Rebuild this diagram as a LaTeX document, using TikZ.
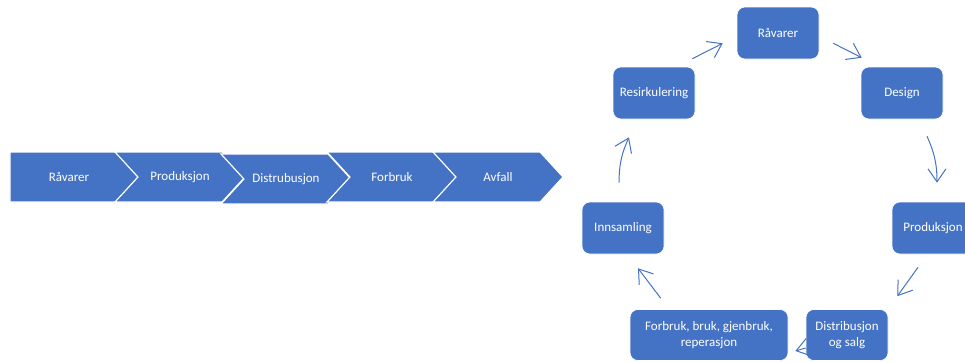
\documentclass[tikz,border=0pt]{standalone}
\usepackage{fontspec}
\setmainfont{Carlito}
\usepackage{xcolor}
\usepackage{tikz}
\usetikzlibrary{shapes,arrows,positioning,calc,arrows.meta}
\definecolor{officeblue}{HTML}{4472C4}

\begin{document}
\begin{tikzpicture}[x=1pt, y=-1pt,
    chev/.style={signal, signal to=east, signal from=west, signal pointer angle=95, fill=officeblue, draw=white, line width=1.2pt, minimum width=130pt, minimum height=50pt, inner sep=0pt, text=white, font=\fontsize{13}{16}\selectfont},
    box/.style={rectangle, rounded corners=8pt, fill=officeblue, draw=white, line width=0.6pt, minimum width=82pt, minimum height=52pt, inner sep=2pt, align=center, text=white, font=\fontsize{13}{16}\selectfont},
    arrow/.style={-{Straight Barb[length=13pt, width=18pt]}, officeblue, line width=1pt}
]
\useasboundingbox (0,0) rectangle (965,362);

% Linear chain
\node[chev, signal from=nowhere, minimum width=141pt] (lraw) at (69,177) {Råvarer};
\node[chev] (lprod) at (180,177) {Produksjon};
\node[chev] (ldist) at (286,179) {Distrubusjon};
\node[chev] (lcons) at (392,177) {Forbruk};
\node[chev] (lwaste) at (498,177) {Avfall};

% Cycle
\node[box] (rav) at (778,33) {Råvarer};
\node[box] (design) at (902,93) {Design};
\node[box] (prod) at (933,228) {Produksjon};
\node[box, minimum height=51pt] (dist) at (847,335) {Distribusjon\\og salg};
\node[box, minimum width=158pt, minimum height=51pt] (forb) at (709,335) {Forbruk, bruk, gjenbruk,\\reperasjon};
\node[box] (inns) at (623,228) {Innsamling};
\node[box] (resirk) at (654,93) {Resirkulering};

% Transitions
\draw[arrow] ([shift={(-3,-8)}]resirk.north east) -- ([shift={(-14,-16)}]rav.south west);
\draw[arrow] ([shift={(14,-16)}]rav.south east) -- ([shift={(1,-9)}]design.north west);
\draw[arrow] ([shift={(25,17)}]design.south) to[bend left=12] ([shift={(4,-19)}]prod.north);
\draw[arrow] ([shift={(-15,13)}]prod.south) -- ([shift={(9,-13)}]dist.north east);
\draw[arrow] ([shift={(0,13)}]dist.west) -- ([shift={(7,16)}]forb.east);
\draw[arrow] ([shift={(31,-11)}]forb.north west) -- ([shift={(15,14)}]inns.south);
\draw[arrow] ([shift={(-4,-19)}]inns.north) to[bend left=12] ([shift={(-25,18)}]resirk.south);

\end{tikzpicture}
\end{document}
